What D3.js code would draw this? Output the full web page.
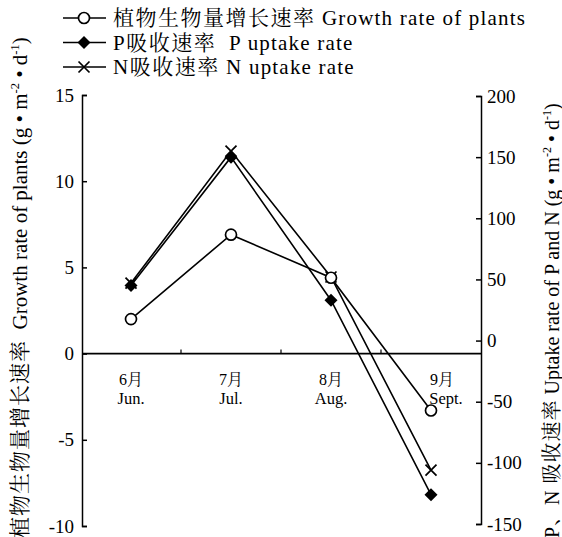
<!DOCTYPE html>
<html>
<head>
<meta charset="utf-8">
<script src="https://cdn.jsdelivr.net/npm/d3@7"></script>
<style>
  html, body { margin: 0; padding: 0; background: #fff; }
  svg { display: block; }
</style>
</head>
<body>
<svg id="chart" width="562" height="537"></svg>
<script>
// Monthly rates: plant growth (left axis) and P / N uptake (right axis)
const monthsZh = ["6月", "7月", "8月", "9月"];
const monthsEn = ["Jun.", "Jul.", "Aug.", "Sept."];
const growthRate = [2.0, 6.9, 4.4, -3.3];
const pUptake = [45, 150, 33, -126];
const nUptake = [47, 155, 52, -106];
const leftTicks = [-10, -5, 0, 5, 10, 15];
const rightTicks = [-150, -100, -50, 0, 50, 100, 150, 200];
const legendItems = [
  { zh: "植物生物量增长速率", en: " Growth rate of plants", marker: "circle" },
  { zh: "P吸收速率", en: "  P uptake rate", marker: "diamond" },
  { zh: "N吸收速率", en: " N uptake rate", marker: "cross" }
];

const FONT = "'Liberation Serif','Times New Roman','Noto Serif CJK SC','Noto Sans CJK SC',serif";
const svg = d3.select("#chart");

const xLeft = 82, xRight = 481;
const x = d3.scaleBand().domain(d3.range(monthsZh.length)).range([xLeft - 1, xRight]);
const yL = d3.scaleLinear().domain([-10, 15]).range([526, 95]);
const yR = d3.scaleLinear().domain([-150, 200]).range([524, 96]);
const cx = i => x(i) + x.bandwidth() / 2;

// Left axis: ticks point inward, hooks at both ends
const axL = svg.append("g").attr("transform", `translate(${xLeft},0)`)
  .call(d3.axisLeft(yL).tickValues(leftTicks).tickSize(-5).tickSizeOuter(-5)
    .tickPadding(8).tickFormat(d => String(d)));
// Right axis
const axR = svg.append("g").attr("transform", `translate(${xRight},0)`)
  .call(d3.axisRight(yR).tickValues(rightTicks).tickSize(-5).tickSizeOuter(-5)
    .tickPadding(6).tickFormat(d => String(d)));
[axL, axR].forEach(g => {
  g.selectAll("path, line").attr("stroke", "#000").attr("stroke-width", 1.5);
  g.selectAll("text").attr("font-family", FONT).attr("font-size", 19).attr("fill", "#000");
});

// Zero line acting as the category axis
const y0 = yL(0);
svg.append("line").attr("x1", xLeft).attr("x2", xRight).attr("y1", y0).attr("y2", y0)
  .attr("stroke", "#000").attr("stroke-width", 1.7);
svg.selectAll(".xtick").data(d3.range(1, monthsZh.length)).enter().append("line")
  .attr("x1", i => x(i)).attr("x2", i => x(i)).attr("y1", y0).attr("y2", y0 - 4)
  .attr("stroke", "#000").attr("stroke-width", 1.2);

// Month labels (last one sits slightly right of its centre)
const labOff = i => (i === monthsZh.length - 1 ? 11 : 0);
svg.selectAll(".mzh").data(monthsZh).enter().append("text")
  .attr("x", (d, i) => cx(i) + labOff(i)).attr("y", y0 + 31)
  .attr("text-anchor", "middle").attr("font-family", FONT).attr("font-size", 16)
  .text(d => d);
svg.selectAll(".men").data(monthsEn).enter().append("text")
  .attr("x", (d, i) => cx(i) + labOff(i) + (i === 3 ? 4 : 0)).attr("y", y0 + 50)
  .attr("text-anchor", "middle").attr("font-family", FONT).attr("font-size", 16.5)
  .text(d => d);

// Series lines
const lineL = d3.line().x((d, i) => cx(i)).y(d => yL(d));
const lineR = d3.line().x((d, i) => cx(i)).y(d => yR(d));
const drawLine = (data, gen) => svg.append("path").datum(data).attr("d", gen)
  .attr("fill", "none").attr("stroke", "#000").attr("stroke-width", 1.6);
drawLine(nUptake, lineR);
drawLine(pUptake, lineR);
drawLine(growthRate, lineL);

// Markers
function marker(g, type) {
  if (type === "circle") {
    g.append("circle").attr("r", 5.5).attr("fill", "#fff").attr("stroke", "#000").attr("stroke-width", 1.7);
  } else if (type === "diamond") {
    g.append("path").attr("d", "M0,-6.5L6.5,0L0,6.5L-6.5,0Z").attr("fill", "#000");
  } else {
    g.append("path").attr("d", "M-5.5,-5.5L5.5,5.5M-5.5,5.5L5.5,-5.5").attr("stroke", "#000").attr("stroke-width", 1.7);
  }
}
nUptake.forEach((v, i) => marker(svg.append("g").attr("transform", `translate(${cx(i)},${yR(v)})`), "cross"));
pUptake.forEach((v, i) => marker(svg.append("g").attr("transform", `translate(${cx(i)},${yR(v)})`), "diamond"));
growthRate.forEach((v, i) => marker(svg.append("g").attr("transform", `translate(${cx(i)},${yL(v)})`), "circle"));

// Legend
const legend = svg.append("g");
legendItems.forEach((it, k) => {
  const ly = 18 + k * 24.5;
  const g = legend.append("g").attr("transform", `translate(0,${ly})`);
  g.append("line").attr("x1", 63).attr("x2", 106).attr("y1", 0).attr("y2", 0)
    .attr("stroke", "#000").attr("stroke-width", 1.7);
  marker(g.append("g").attr("transform", "translate(84,0)"), it.marker);
  const t = g.append("text").attr("x", 113).attr("y", 7).attr("font-family", FONT)
    .attr("font-size", 21).style("white-space", "pre");
  t.append("tspan").attr("letter-spacing", 1.5).text(it.zh);
  t.append("tspan").attr("letter-spacing", 1.2).text(it.en);
});

// Rotated axis titles with superscript units
function unitTitle(tx, ty, size, zh, en) {
  const t = svg.append("text").attr("transform", `translate(${tx},${ty}) rotate(-90)`)
    .attr("font-family", FONT).attr("font-size", size).style("white-space", "pre");
  t.append("tspan").attr("letter-spacing", 1).text(zh);
  t.append("tspan").text(en + " (g • m");
  t.append("tspan").attr("font-size", size * 0.6).attr("dy", -8).text("-2");
  t.append("tspan").attr("dy", 8).text(" • d");
  t.append("tspan").attr("font-size", size * 0.6).attr("dy", -8).text("-1");
  t.append("tspan").attr("dy", 8).text(")");
}
unitTitle(27, 538, 21, "植物生物量增长速率", "  Growth rate of plants");
unitTitle(559, 538, 20, "P、N 吸收速率", " Uptake rate of P and N");
</script>
</body>
</html>
